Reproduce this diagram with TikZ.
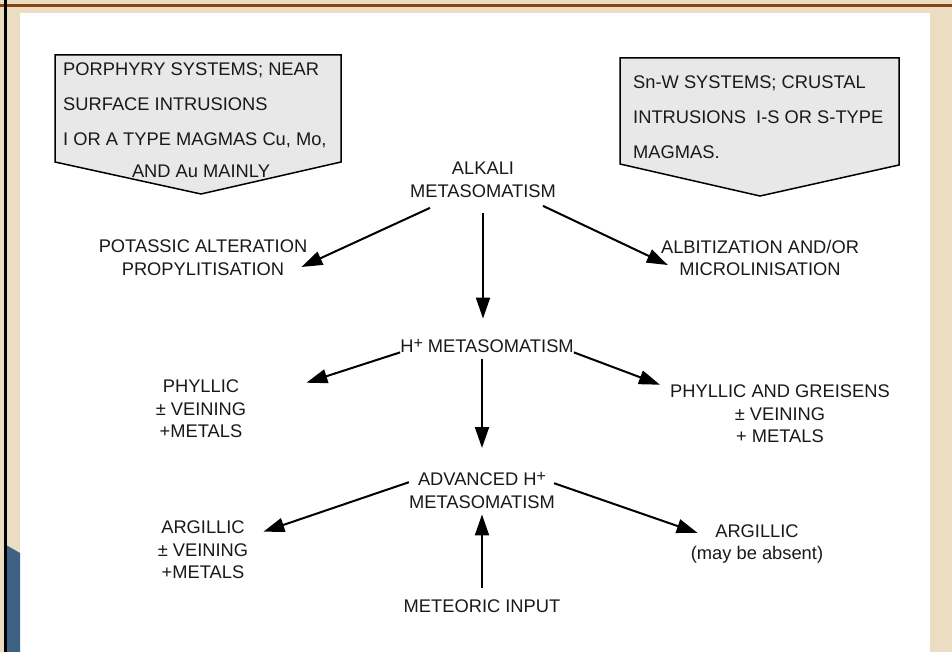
\documentclass[tikz,border=0pt]{standalone}
\usepackage{fontspec}
\setmainfont{Liberation Sans}
\usepackage{xcolor}
\usepackage{tikz}
\usetikzlibrary{arrows.meta,positioning,calc}

\definecolor{framebeige}{HTML}{EBDDC2}
\definecolor{framebrown}{HTML}{8A4516}
\definecolor{frameblue}{HTML}{3E6283}
\newcommand{\Hion}{H\raisebox{4pt}{\fontsize{16}{16}\selectfont +}}

\begin{document}
\begin{tikzpicture}[
        x=1pt, y=-1pt,
        casebox/.style={draw=black, line width=1.5pt, fill=black!9},
        boxtxt/.style={font=\fontsize{18.3}{35}\selectfont, align=left, inner sep=0pt, anchor=north west, text=black!90},
        stage/.style={font=\fontsize{18.3}{22.6}\selectfont, align=center, inner sep=0pt, text=black!90},
        arrow/.style={-{Triangle[length=21pt, width=14pt]}, line width=2pt}
    ]
        \useasboundingbox (0,0) rectangle (952,652);

        % Frame
        \fill[framebeige] (0,0) rectangle (952,652);
        \fill[white] (20,13) rectangle (930,652);
        \fill[framebrown] (0,4) rectangle (952,7);
        \fill[frameblue] (6,545) -- (20,553) -- (20,652) -- (6,652) -- cycle;
        \fill[black] (3.5,0) rectangle (6.5,652);

        % Source systems
        \draw[casebox] (55,55) -- (341,55) -- (341,162) -- (201,194) -- (55,162) -- cycle;
        \draw[casebox] (620,58) -- (899,58) -- (899,165) -- (760,196) -- (620,164) -- cycle;
        \node[boxtxt] (porph) at (63,63) {PORPHYRY SYSTEMS; NEAR\\SURFACE INTRUSIONS\\I OR A TYPE MAGMAS Cu, Mo,};
        \node[stage] (porphau) at (201,171.5) {AND Au MAINLY};
        \node[boxtxt] (snw) at (633,76) {Sn-W SYSTEMS; CRUSTAL\\INTRUSIONS\ \ I-S OR S-TYPE\\MAGMAS.};

        % Stages
        \node[stage] (alkali) at (483,180) {ALKALI\\METASOMATISM};
        \node[stage] (potassic) at (203,258) {POTASSIC ALTERATION\\PROPYLITISATION};
        \node[stage] (albit) at (760,258) {ALBITIZATION AND/OR\\MICROLINISATION};
        \node[stage, anchor=base] (hplus) at (487,352) {\Hion{} METASOMATISM};
        \node[stage] (phyllic) at (201,409) {PHYLLIC\\± VEINING\\+METALS};
        \node[stage] (phygreis) at (780,414) {PHYLLIC AND GREISENS\\± VEINING\\+ METALS};
        \node[stage, anchor=north] (adv) at (482,472) {ADVANCED \Hion\\METASOMATISM};
        \node[stage] (argl) at (203,550) {ARGILLIC\\± VEINING\\+METALS};
        \node[stage] (argr) at (757,544) {ARGILLIC\\(may be absent)};
        \node[stage, below=91pt of adv] (meteoric) {METEORIC INPUT};

        % Connections
        \draw[arrow] ([shift={(-53,10)}]alkali.south) -- ([shift={(-6,9)}]potassic.east);
        \draw[arrow] ([shift={(60,8)}]alkali.south) -- ([shift={(7,7)}]albit.west);
        \draw[arrow, shorten <=15pt, shorten >=20pt] (alkali.south) -- (alkali.south |- hplus.north);

        \draw[arrow] (hplus.south west) -- ([shift={(60,3)}]phyllic.north east);
        \draw[arrow] (hplus.south east) -- ([shift={(-10,0)}]phygreis.north west);
        \draw[arrow, shorten <=7pt, shorten >=24pt] (adv.north |- hplus.south) -- (adv.north);

        \draw[arrow] ([shift={(0,-8)}]adv.west) -- ([shift={(15,11)}]argl.north east);
        \draw[arrow] ([shift={(-1,-7)}]adv.east) -- ([shift={(7,-11)}]argr.west);
        \draw[arrow, shorten <=11pt, shorten >=6pt] (meteoric.north) -- (meteoric.north |- adv.south);

    \end{tikzpicture}
\end{document}
